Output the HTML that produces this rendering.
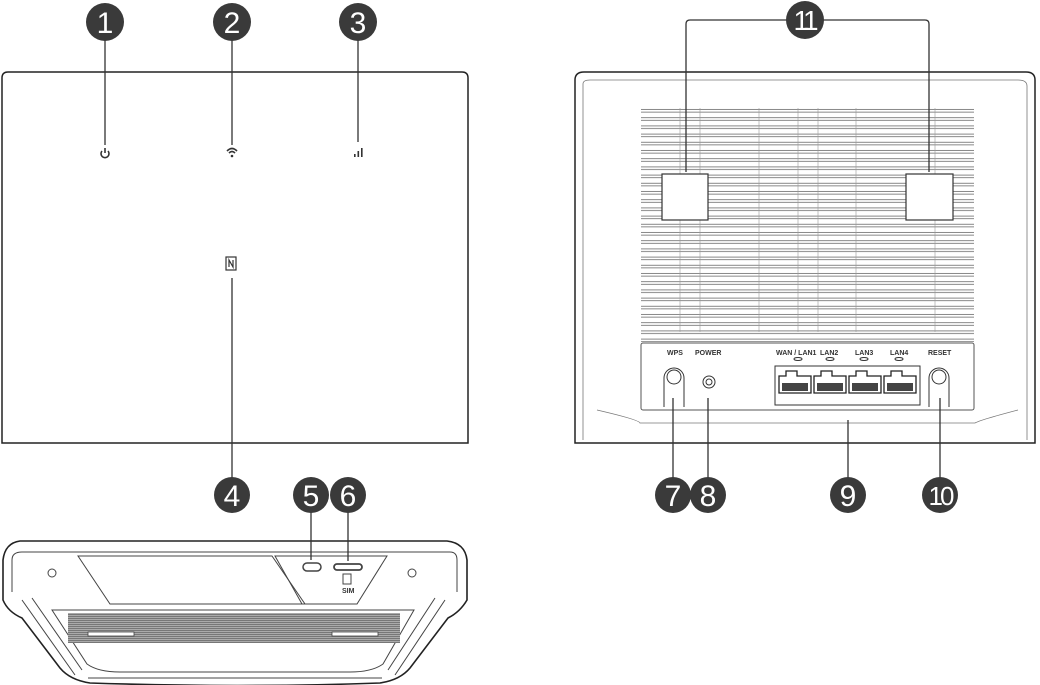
<!DOCTYPE html>
<html><head><meta charset="utf-8"><style>html,body{margin:0;padding:0;background:#fff}svg{display:block}</style></head>
<body>
<svg width="1040" height="685" viewBox="0 0 1040 685" xmlns="http://www.w3.org/2000/svg" font-family="Liberation Sans, sans-serif">
<defs>
<pattern id="vent" x="0" y="108" width="10" height="8.2" patternUnits="userSpaceOnUse">
<rect x="-1" y="1.5" width="12" height="2.6" fill="none" stroke="#555" stroke-width="0.7"/>
</pattern>
<pattern id="grill" x="0" y="0" width="10" height="2" patternUnits="userSpaceOnUse">
<rect width="10" height="1" fill="#777"/><rect y="1" width="10" height="1" fill="#aaa"/>
</pattern>
</defs>
<g stroke="#222" fill="none" stroke-width="1.5">
<path d="M2,443 L2,78 Q2,72 8,72 L462,72 Q468,72 468,78 L468,443 Z"/>
<path d="M575,443 L575,80 Q575,72 584,72 L1026,72 Q1035,72 1035,80 L1035,443 Z"/>
<path d="M583,440 L583,84 Q583,80 590,80 L1018,80 Q1027,80 1027,86 L1027,440" stroke-width="0.8" stroke="#777"/>
<path d="M597,410 Q640,420 640,423 L975,423 Q980,420 1018,410" stroke-width="0.8" stroke="#777"/>
</g>
<rect x="641" y="108" width="333" height="234" fill="url(#vent)"/>
<g stroke="#999" stroke-width="0.6">
<line x1="680" y1="108" x2="680" y2="332"/><line x1="700" y1="108" x2="700" y2="332"/><line x1="759" y1="108" x2="759" y2="332"/><line x1="798" y1="108" x2="798" y2="332"/><line x1="818" y1="108" x2="818" y2="332"/><line x1="856" y1="108" x2="856" y2="332"/><line x1="935" y1="108" x2="935" y2="332"/>
</g>
<g fill="#fff" stroke="#333" stroke-width="1.2">
<rect x="662" y="174" width="46" height="46"/>
<rect x="906" y="174" width="47" height="46"/>
</g>
<rect x="641" y="343" width="333" height="67" rx="2" fill="#fff" stroke="#555" stroke-width="1"/>
<g font-size="7" font-weight="bold" fill="#333">
<text x="667" y="355">WPS</text><text x="695" y="355">POWER</text>
<text x="776" y="355">WAN / LAN1</text><text x="820" y="355">LAN2</text><text x="855" y="355">LAN3</text><text x="890" y="355">LAN4</text><text x="928" y="355">RESET</text>
</g>
<g fill="none" stroke="#333" stroke-width="1">
<ellipse cx="798" cy="359" rx="4" ry="1.5"/><ellipse cx="830" cy="359" rx="4" ry="1.5"/><ellipse cx="864" cy="359" rx="4" ry="1.5"/><ellipse cx="899" cy="359" rx="4" ry="1.5"/>
<path d="M664,407 L664,378 A10,10 0 0 1 684,378 L684,407"/><circle cx="674" cy="377" r="7"/>
<circle cx="709" cy="382" r="6"/><circle cx="709" cy="382" r="3"/>
<path d="M929,407 L929,378 A10,10 0 0 1 949,378 L949,407"/><circle cx="939" cy="377" r="7"/>
<rect x="775" y="366" width="145" height="39"/>
</g>
<g fill="#fff" stroke="#222" stroke-width="1.3">
<path d="M779,393 L779,376 L786,376 L786,371 L797,371 L797,376 L811,376 L811,393 Z"/>
<path d="M814,393 L814,376 L821,376 L821,371 L832,371 L832,376 L846,376 L846,393 Z"/>
<path d="M849,393 L849,376 L856,376 L856,371 L867,371 L867,376 L881,376 L881,393 Z"/>
<path d="M884,393 L884,376 L891,376 L891,371 L902,371 L902,376 L916,376 L916,393 Z"/>
</g>
<g fill="#444"><rect x="782" y="383" width="26" height="8"/><rect x="817" y="383" width="26" height="8"/><rect x="852" y="383" width="26" height="8"/><rect x="887" y="383" width="26" height="8"/></g>
<g stroke="#333" fill="none" stroke-width="1.6">
<path d="M102,151 A4,4 0 1 0 108,151"/><line x1="105" y1="148" x2="105" y2="153"/>
<path d="M227,151 Q232,146 237,151 M229,153 Q232,150 235,153"/>
<rect x="226" y="257" width="10" height="13" stroke-width="1.2"/><path d="M229,267 L229,260 L233,267 L233,260" stroke-width="1.2"/>
</g>
<circle cx="232" cy="156" r="1.3" fill="#333"/>
<g fill="#333"><rect x="354" y="154" width="1.6" height="3"/><rect x="357.5" y="151" width="1.6" height="6"/><rect x="361" y="148" width="1.6" height="9"/></g>
<!-- bottom device -->
<g stroke="#222" fill="none" stroke-width="1.6">
<path d="M20,541 L447,541 Q465,543 467,560 L467,600 Q460,612 448,618 L410,668 Q400,680 380,683 Q240,688 90,683 Q70,680 60,668 L22,618 Q8,612 3,600 L3,560 Q5,543 20,541 Z"/>
</g>
<g stroke="#444" fill="none" stroke-width="1">
<path d="M12,592 L12,560 Q12,552 22,552 L450,552 Q457,552 457,560 L457,592"/>
<path d="M78,556 L272,556 L305,604 L110,604 Z"/>
<path d="M275,556 L387,556 L357,604 L302,604 Z"/>
<path d="M52,610 L414,610 L383,664 Q372,672 350,672 L120,672 Q98,672 87,664 Z"/>
<path d="M22,600 L75,675 M32,598 L82,670 M445,600 L395,675 M435,598 L388,670"/>
<path d="M88,678 L382,678"/>
<circle cx="52" cy="573" r="4"/><circle cx="412" cy="573" r="4"/>
<rect x="303" y="563" width="18" height="8" rx="4" stroke-width="1.5"/>
<rect x="334" y="564" width="28" height="6" rx="3" stroke-width="1.8"/>
<path d="M343,574 L351,574 L351,584 L343,584 Z"/>
</g>
<rect x="68" y="613" width="332" height="30" fill="url(#grill)"/>
<g fill="#fff" stroke="#444" stroke-width="0.8"><rect x="88" y="632" width="46" height="4"/><rect x="332" y="632" width="46" height="4"/></g>
<text x="342" y="593" font-size="7" font-weight="bold" fill="#333">SIM</text>
<g stroke="#333" stroke-width="1.3" fill="none">
<line x1="105" y1="40" x2="105" y2="145"/><line x1="232" y1="40" x2="232" y2="145"/><line x1="358" y1="40" x2="358" y2="142"/>
<line x1="232" y1="278" x2="232" y2="478"/>
<line x1="311" y1="512" x2="311" y2="560"/><line x1="348" y1="512" x2="348" y2="561"/>
<line x1="673" y1="398" x2="673" y2="478"/><line x1="708" y1="398" x2="708" y2="478"/><line x1="848" y1="420" x2="848" y2="478"/><line x1="940" y1="398" x2="940" y2="478"/>
<path d="M787,20 L690,20 Q686,20 686,24 L686,172 M823,20 L925,20 Q929,20 929,24 L929,172"/>
</g>
<g fill="#3a3a3a">
<circle cx="105" cy="22" r="19"/><circle cx="232" cy="22" r="19"/><circle cx="358" cy="22" r="19"/>
<circle cx="232" cy="495" r="18"/><circle cx="311" cy="495" r="18"/><circle cx="348" cy="495" r="18"/>
<circle cx="673" cy="495" r="18"/><circle cx="708" cy="495" r="18"/><circle cx="848" cy="495" r="18"/><circle cx="940" cy="495" r="18"/><circle cx="805" cy="20" r="19"/>
</g>
<g fill="#fff" font-size="30" text-anchor="middle">
<text x="105" y="33">1</text><text x="232" y="33">2</text><text x="358" y="33">3</text>
<text x="232" y="506">4</text><text x="311" y="506">5</text><text x="348" y="506">6</text>
<text x="673" y="506">7</text><text x="708" y="506">8</text><text x="848" y="506">9</text>
<text x="940" y="505" font-size="26" letter-spacing="-3">10</text><text x="804" y="30" font-size="28" letter-spacing="-4">11</text>
</g>
</svg>
</body></html>
